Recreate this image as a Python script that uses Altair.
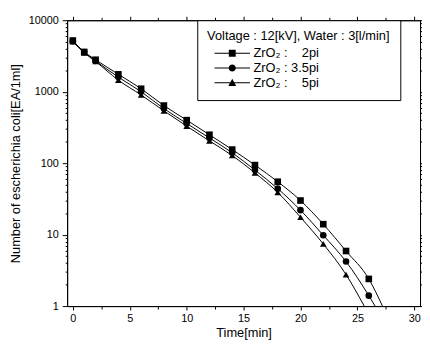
import altair as alt
import pandas as pd

# ---- data ----
series_names = ["ZrO\u2082 :\u00a0\u00a0\u00a0 2pi", "ZrO\u2082 : 3.5pi", "ZrO\u2082 :\u00a0\u00a0\u00a0 5pi"]
time_sq = [0, 1, 2, 4, 6, 8, 10, 12, 14, 16, 18, 20, 22, 24, 26]
vals_sq = [5200, 3600, 2800, 1750, 1100, 640, 400, 250, 155, 94, 55, 30, 14, 5.9, 2.4]
time_ci = [0, 1, 2, 4, 6, 8, 10, 12, 14, 16, 18, 20, 22, 24, 26]
vals_ci = [5100, 3600, 2700, 1600, 1000, 580, 360, 225, 140, 80, 44, 22, 9.8, 4.2, 1.4]
time_tr = [0, 1, 2, 4, 6, 8, 10, 12, 14, 16, 18, 20, 22, 24]
vals_tr = [5000, 3500, 2650, 1450, 900, 540, 330, 205, 128, 73, 39, 17.5, 7.4, 2.76]
# where each fitted curve leaves the bottom of the plot (value 1)
end_time = [27.2, 26.55, 25.6]
end_value = [1, 1, 1]

x_ticks = [0, 2.5, 5, 7.5, 10, 12.5, 15, 17.5, 20, 22.5, 25, 27.5, 30]
y_ticks = [m * 10 ** e for e in range(4) for m in range(1, 10)] + [10000]

pts_rows = []
line_rows = []
for i, (ts, vs) in enumerate([(time_sq, vals_sq), (time_ci, vals_ci), (time_tr, vals_tr)]):
    for t, v in zip(ts, vs):
        pts_rows.append({"t": t, "v": v, "s": series_names[i], "o": i})
        line_rows.append({"t": t, "v": v, "s": series_names[i], "o": i})
    line_rows.append({"t": end_time[i], "v": end_value[i], "s": series_names[i], "o": i})
pts = pd.DataFrame(pts_rows)
lines = pd.DataFrame(line_rows)

FONT = "Liberation Sans"
NB = "\u00a0"
xscale = alt.Scale(domain=[-0.5, 30.5], nice=False, zero=False)
yscale = alt.Scale(type="log", domain=[1, 10000], nice=False)

x_major = "datum.value % 5 == 0"
y_major = "datum.value == 1 || datum.value == 10 || datum.value == 100 || datum.value == 1000 || datum.value == 10000"

x_bottom = alt.Axis(values=x_ticks, labelExpr=f"{x_major} ? format(datum.value, 'd') : ''",
                    tickSize={"condition": {"test": x_major, "value": 4}, "value": 3},
                    title="Time[min]", labelOverlap=False, grid=False, labelPadding=3, titlePadding=3)
y_left = alt.Axis(values=y_ticks, labelExpr=f"{y_major} ? format(datum.value, 'd') : ''",
                  tickSize={"condition": {"test": y_major, "value": 5}, "value": 2},
                  title="Number of escherichia coli[EA/1ml]", labelOverlap=False, grid=False,
                  labelPadding=4, titlePadding=6)
x_top = alt.Axis(values=x_ticks, orient="top", labels=False, title=None,
                 tickSize={"condition": {"test": x_major, "value": 4}, "value": 3}, grid=False)
y_right = alt.Axis(values=y_ticks, orient="right", labels=False, title=None,
                   tickSize={"condition": {"test": y_major, "value": 3}, "value": 2}, grid=False)

line_layer = alt.Chart(lines).mark_line(interpolate="monotone", color="black", strokeWidth=1, clip=True).encode(
    x=alt.X("t:Q", scale=xscale, axis=x_bottom),
    y=alt.Y("v:Q", scale=yscale, axis=y_left),
    detail="s:N",
    order="t:Q",
)

point_layer = alt.Chart(pts).mark_point(filled=True, color="black", opacity=1, size=45).encode(
    x=alt.X("t:Q", scale=xscale, axis=x_top),
    y=alt.Y("v:Q", scale=yscale, axis=y_right),
    shape=alt.Shape("s:N", sort=series_names, legend=None,
                    scale=alt.Scale(domain=series_names, range=["square", "circle", "triangle-up"])),
)

# legend glyphs: a thin filled bar (the line) plus the marker, all filled
BAR = "M-3.6,-0.1H3.6V0.1H-3.6Z"
legend_paths = [
    BAR + "M-0.7,-0.7H0.7V0.7H-0.7Z",
    BAR + "M0.72,0A0.72,0.72 0 1,1 -0.72,0A0.72,0.72 0 1,1 0.72,0Z",
    BAR + "M0,-0.85L0.8,0.65H-0.8Z",
]

legend_layer = alt.Chart(pts).mark_point(filled=True, color="black",
                                         opacity=0, size=100).encode(
    x=alt.X("t:Q", scale=xscale, axis=None),
    y=alt.Y("v:Q", scale=yscale, axis=None),
    shape=alt.Shape("s:N", sort=series_names,
                    scale=alt.Scale(domain=series_names, range=legend_paths),
                    legend=alt.Legend(
                        title=NB * 4 + "Voltage : 12[kV], Water : 3[l/min]" + NB * 3,
                        orient="none", legendX=132, legendY=0,
                        symbolOpacity=1, symbolFillColor="black",
                        symbolSize=100, symbolOffset=19,
                        labelOffset=15, rowPadding=0, titleLimit=400, labelLimit=300,
                    )),
)

chart = alt.layer(line_layer, point_layer, legend_layer).resolve_axis(
    x="independent", y="independent"
).resolve_scale(shape="independent").properties(
    width=358, height=290,
    autosize=alt.AutoSizeParams(type="none"),
    padding={"left": 60, "top": 10, "right": 2, "bottom": 33},
).configure_view(stroke="black", strokeWidth=1).configure_axis(
    domainColor="black", tickColor="black", labelColor="black", titleColor="black",
    labelFont=FONT, titleFont=FONT, labelFontSize=11, titleFontSize=13,
    titleFontWeight="normal", domainWidth=1, tickWidth=1,
).configure_legend(
    titleFont=FONT, labelFont=FONT, titleFontSize=13, labelFontSize=13,
    titleFontWeight="normal", titleColor="black", labelColor="black",
    strokeColor="black", fillColor="white", padding=10, titlePadding=4,
    cornerRadius=0,
)

chart.save("out.html", embed_options={"renderer": "svg", "actions": False})
